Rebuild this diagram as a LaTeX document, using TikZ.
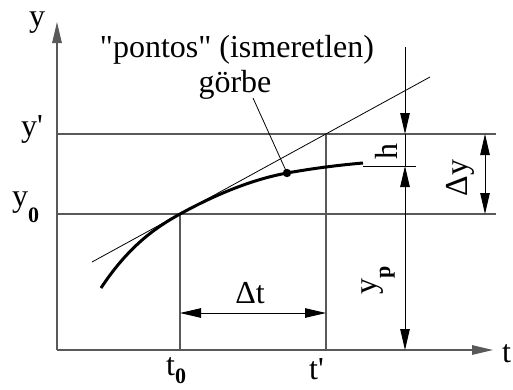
\documentclass[tikz,border=0pt]{standalone}
\usepackage{fontspec}
\setmainfont{Liberation Serif}
\usetikzlibrary{arrows.meta}
\tikzset{
  gridline/.style={draw=black!65, line width=1.3pt},
  dimline/.style={draw=black, line width=0.9pt},
  tip/.style={-{Triangle[length=21pt,width=9.5pt]}},
  tips/.style={{Triangle[length=21pt,width=9.5pt]}-{Triangle[length=21pt,width=9.5pt]}},
  lbl/.style={inner sep=0pt, font=\fontsize{32}{36}\selectfont},
}
\newcommand{\subb}[2]{\raisebox{-#1pt}{\fontsize{22}{24}\selectfont\bfseries #2}}
\begin{document}
\begin{tikzpicture}[x=1pt,y=-1pt]
\useasboundingbox (0,0) rectangle (513,389);
% coordinates
\coordinate (O) at (57,350);
\coordinate (Ytip) at (57,22);
\coordinate (Ttip) at (493,350);
\coordinate (Ypl) at (57,134);
\coordinate (Ypr) at (496,134);
\coordinate (Y0l) at (57,214);
\coordinate (Y0r) at (496,214);
\coordinate (T0) at (180,214);
\coordinate (T0b) at (180,350);
\coordinate (Tp) at (326,134);
\coordinate (Tpb) at (326,350);
\coordinate (Tan1) at (92,262);
\coordinate (Tan2) at (430,77);
\coordinate (C0) at (101,288);
\coordinate (P) at (287,173);
\coordinate (C1) at (363,163);
\coordinate (Hl) at (363,166);
\coordinate (Hr) at (416,166);
\coordinate (Dtop) at (405,47);
\coordinate (Dyp) at (405,134);
\coordinate (Dh) at (405,166);
\coordinate (Dbot) at (405,350);
\coordinate (DYa) at (485,134);
\coordinate (DYb) at (485,214);
\coordinate (DTa) at (180,313);
\coordinate (DTb) at (326,313);
\coordinate (Lead) at (253,98);
% axes
\draw[gridline, tip] (O) -- (Ytip);
\draw[gridline, tip] (O) -- (Ttip);
% grid lines
\draw[gridline] (Ypl) -- (Ypr);
\draw[gridline] (Y0l) -- (Y0r);
\draw[gridline] (T0) -- (T0b);
\draw[gridline] (Tp) -- (Tpb);
% tangent
\draw[line width=0.8pt] (Tan1) -- (Tan2);
% curve
\draw[line width=3pt] (C0) .. controls (128,247) and (155,227.7) .. (T0)
  .. controls (225,189.3) and (260,178) .. (P)
  .. controls (315,168) and (340,165) .. (C1);
\fill (P) circle (4.2pt);
\draw[dimline] (Hl) -- (Hr);
% leader
\draw[line width=0.8pt] (Lead) -- (P);
% dimension lines
\draw[dimline, tip] (Dtop) -- (Dyp);
\draw[dimline] (Dyp) -- (Dh);
\draw[dimline, tips] (Dh) -- (Dbot);
\draw[dimline, tips] (DYa) -- (DYb);
\draw[dimline, tips] (DTa) -- (DTb);
% labels
\node[lbl, anchor=base] (ly) at (37,26) {y};
\node[lbl, anchor=base west] (lt) at (502,362) {t};
\node[lbl, anchor=base] (lyp) at (32,136) {y\textquotesingle};
\node[lbl, anchor=base west] (ly0) at (12,206) {y\subb{16}{0}};
\node[lbl, anchor=base west] (lt0) at (166,375) {t\subb{8}{0}};
\node[lbl, anchor=base west] (ltp) at (309,379) {t\textquotesingle};
\node[lbl, anchor=base] (ldt) at (250,303) {Δt};
\node[lbl, anchor=base, rotate=90] (lh) at (397,151) {h};
\node[lbl, anchor=base, rotate=90] (ldy) at (467,178) {Δy};
\node[lbl, anchor=base west, rotate=90] (lyP) at (376,295) {y\subb{14}{p}};
\node[lbl, anchor=base] (lt1) at (237,57) {\textquotedbl pontos\textquotedbl{} (ismeretlen)};
\node[lbl, anchor=base] (lt2) at (235,92) {görbe};
\end{tikzpicture}
\end{document}
